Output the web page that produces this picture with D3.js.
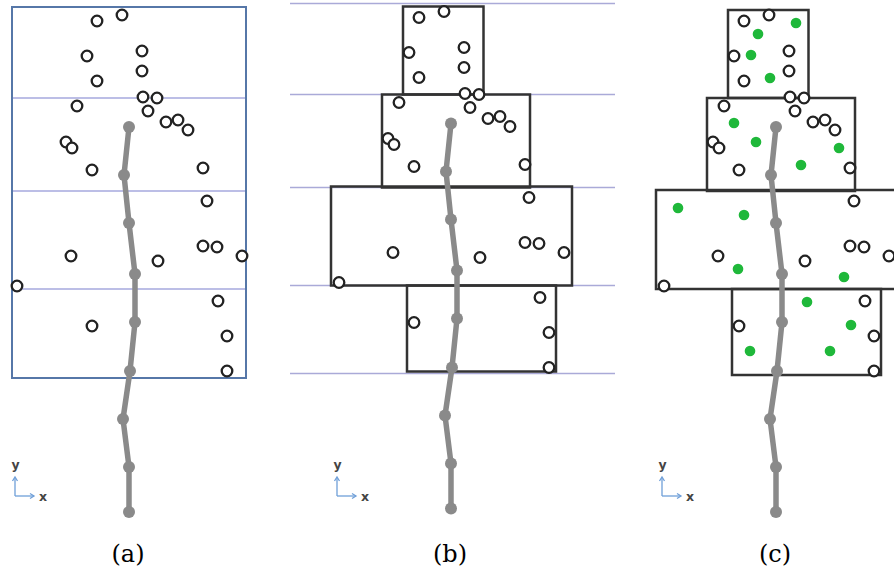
<!DOCTYPE html>
<html>
<head>
<meta charset="utf-8">
<script src="https://cdn.jsdelivr.net/npm/d3@7"></script>
<style>
  html, body { margin: 0; padding: 0; background: #fff; }
  svg { display: block; }
</style>
</head>
<body>
<svg id="fig" width="894" height="573"></svg>
<script>
// all values are in the local frame of panel (a)
const circlePts = [
  [97, 21], [122, 15], [87, 56], [142, 51], [142, 71], [97, 81], [143, 97], [157, 98],
  [77, 106], [148, 111], [166, 122], [178, 120], [188, 130], [66, 142], [72, 148], [92, 170], [203, 168],
  [207, 201], [71, 256], [158, 261], [203, 246], [217, 247], [242, 256], [17, 286],
  [218, 301], [92, 326], [227, 336], [227, 371]
];
const greenPts = [
  [149, 23], [111, 34], [104, 55], [123, 78], [87, 123], [109, 142], [154, 165], [192, 148],
  [31, 208], [97, 215], [91, 269], [197, 277], [160, 302], [204, 325], [103, 351], [183, 351]
];
const pathX = [129, 124, 129, 135, 135, 130, 123, 129, 129];
const pathY = [127, 175, 223, 274, 322, 371, 419, 467, 512];
const rowLines = [7, 98, 191, 289, 377];
// stacked boxes: [x0, x1, y0, y1]
const boxes = [
  [81, 161.5, 10, 98],
  [60, 208, 98, 191],
  [9, 250, 190, 289],
  [85, 234, 289, 375]
];
const outerBox = [12, 246, 7, 378];
const panels = [
  { label: "(a)", dx: 0, dy: 0 },
  { label: "(b)", dx: 322, dy: -3.5 },
  { label: "(c)", dx: 647, dy: 0 }
];

const svg = d3.select("#fig");

panels.forEach((p, i) => {
  const x = d3.scaleLinear().domain([0, 250]).range([p.dx, p.dx + 250]);
  const y = d3.scaleLinear().domain([0, 520]).range([p.dy, p.dy + 520]);
  const g = svg.append("g");

  // horizontal row lines
  if (i === 0) {
    g.selectAll(".row").data(rowLines.slice(1, 4)).enter().append("line")
      .attr("x1", x(outerBox[0])).attr("x2", x(outerBox[1]))
      .attr("y1", d => y(d)).attr("y2", d => y(d))
      .attr("stroke", "#a6a8de").attr("stroke-width", 1.6);
    g.append("rect")
      .attr("x", x(outerBox[0])).attr("y", y(outerBox[2]))
      .attr("width", x(outerBox[1]) - x(outerBox[0]))
      .attr("height", y(outerBox[3]) - y(outerBox[2]))
      .attr("fill", "none").attr("stroke", "#5677a8").attr("stroke-width", 2);
  }
  if (i === 1) {
    g.selectAll(".row").data(rowLines).enter().append("line")
      .attr("x1", x(-32)).attr("x2", x(293))
      .attr("y1", d => y(d)).attr("y2", d => y(d))
      .attr("stroke", "#aaaad8").attr("stroke-width", 1.6);
  }
  if (i > 0) {
    g.selectAll(".box").data(boxes).enter().append("rect")
      .attr("x", d => x(d[0])).attr("y", d => y(d[2]))
      .attr("width", d => x(d[1]) - x(d[0]))
      .attr("height", d => y(d[3]) - y(d[2]))
      .attr("fill", "none").attr("stroke", "#333").attr("stroke-width", 2.5);
  }

  // trajectory
  const pts = pathX.map((v, k) => [v, pathY[k]]);
  g.append("path")
    .attr("d", d3.line().x(d => x(d[0])).y(d => y(d[1]))(pts))
    .attr("fill", "none").attr("stroke", "#8a8a8a").attr("stroke-width", 5.5)
    .attr("stroke-linejoin", "round");
  g.selectAll(".node").data(pts).enter().append("circle")
    .attr("cx", d => x(d[0])).attr("cy", d => y(d[1]))
    .attr("r", 6).attr("fill", "#8a8a8a");

  // points
  g.selectAll(".pt").data(circlePts).enter().append("circle")
    .attr("cx", d => x(d[0])).attr("cy", d => y(d[1]))
    .attr("r", 5.3).attr("fill", "#fff").attr("stroke", "#222").attr("stroke-width", 2.3);

  if (i === 2) {
    g.selectAll(".gp").data(greenPts).enter().append("circle")
      .attr("cx", d => x(d[0])).attr("cy", d => y(d[1]))
      .attr("r", 5.3).attr("fill", "#1fb83a");
  }

  // axis icon
  const ax = svg.append("g").attr("stroke", "#6f9fd8").attr("fill", "none").attr("stroke-width", 1.3);
  ax.append("path").attr("d", `M${x(15)},${y(496) - p.dy} V${y(478) - p.dy}`);
  ax.append("path").attr("d", `M${x(12.5)},${y(481) - p.dy} L${x(15)},${y(477) - p.dy} L${x(17.5)},${y(481) - p.dy}`);
  ax.append("path").attr("d", `M${x(15)},${y(496) - p.dy} H${x(34)}`);
  ax.append("path").attr("d", `M${x(30)},${y(493.5) - p.dy} L${x(34)},${y(496) - p.dy} L${x(30)},${y(498.5) - p.dy}`);
  svg.append("text").attr("x", x(15.5)).attr("y", y(469) - p.dy)
    .attr("text-anchor", "middle").attr("font-family", "DejaVu Sans, sans-serif")
    .attr("font-size", 12.5).attr("font-weight", "bold").attr("fill", "#444").text("y");
  svg.append("text").attr("x", x(43)).attr("y", y(501) - p.dy)
    .attr("text-anchor", "middle").attr("font-family", "DejaVu Sans, sans-serif")
    .attr("font-size", 12.5).attr("font-weight", "bold").attr("fill", "#444").text("x");

  // panel label
  svg.append("text").attr("x", x(128)).attr("y", 562)
    .attr("text-anchor", "middle").attr("font-family", "DejaVu Serif, serif")
    .attr("font-size", 24).attr("fill", "#000").text(p.label);
});
</script>
</body>
</html>
